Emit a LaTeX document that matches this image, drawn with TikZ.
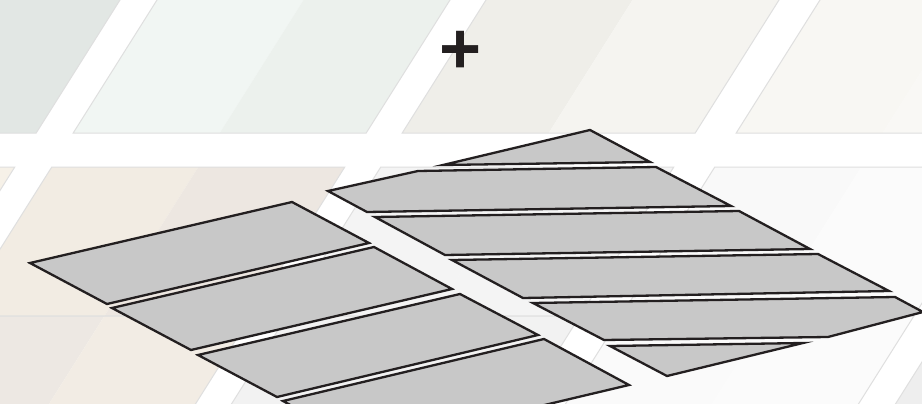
\documentclass[tikz,border=0pt]{standalone}
\usepackage{fontspec}
\newfontfamily\plusfont{Liberation Sans}
\definecolor{inkblack}{HTML}{231F20}
\definecolor{panelgray}{HTML}{C8C8C8}
\definecolor{tileline}{HTML}{DFDFDF}
\newcommand\bgtile[5]{%
  \fill[fill=#4] ({#1-0.63*(#2)},#2) -- ({#1+146.5-0.63*(#2)},#2) -- ({#1+146.5-0.63*(#3)},#3) -- ({#1-0.63*(#3)},#3) -- cycle;
  \fill[fill=#5] ({#1+146.5-0.63*(#2)},#2) -- ({#1+293-0.63*(#2)},#2) -- ({#1+293-0.63*(#3)},#3) -- ({#1+146.5-0.63*(#3)},#3) -- cycle;
  \draw[tileedge] ({#1-0.63*(#2)},#2) -- ({#1+293-0.63*(#2)},#2) -- ({#1+293-0.63*(#3)},#3) -- ({#1-0.63*(#3)},#3) -- cycle;
}
\begin{document}
\begin{tikzpicture}[x=1pt,y=-1pt,
  panel/.style={fill=panelgray, draw=inkblack, line width=2.3pt, line join=miter},
  tileedge/.style={draw=tileline, line width=1pt}]
\useasboundingbox (0,0) rectangle (922,404);
\fill[white] (0,0) rectangle (922,404);
\clip (0,0) rectangle (922,404);
% background tiles, row 1
\bgtile{-173}{-20}{133}{{rgb,255:red,228;green,233;blue,230}}{{rgb,255:red,226;green,231;blue,228}}
\bgtile{157}{-20}{133}{{rgb,255:red,241;green,246;blue,243}}{{rgb,255:red,236;green,241;blue,237}}
\bgtile{486}{-20}{133}{{rgb,255:red,239;green,238;blue,233}}{{rgb,255:red,245;green,244;blue,240}}
\bgtile{820}{-20}{133}{{rgb,255:red,248;green,247;blue,243}}{{rgb,255:red,249;green,248;blue,245}}
% row 2
\bgtile{-173}{167}{316}{{rgb,255:red,246;green,241;blue,232}}{{rgb,255:red,246;green,241;blue,232}}
\bgtile{157}{167}{316}{{rgb,255:red,242;green,236;blue,227}}{{rgb,255:red,237;green,231;blue,225}}
\bgtile{486}{167}{316}{{rgb,255:red,244;green,244;blue,244}}{{rgb,255:red,244;green,244;blue,244}}
\bgtile{820}{167}{316}{{rgb,255:red,249;green,249;blue,249}}{{rgb,255:red,251;green,251;blue,251}}
% row 3
\bgtile{-173}{316}{420}{{rgb,255:red,240;green,236;blue,230}}{{rgb,255:red,240;green,236;blue,230}}
\bgtile{157}{316}{420}{{rgb,255:red,237;green,232;blue,227}}{{rgb,255:red,242;green,236;blue,228}}
\bgtile{486}{316}{420}{{rgb,255:red,242;green,242;blue,242}}{{rgb,255:red,242;green,242;blue,242}}
\bgtile{820}{316}{420}{{rgb,255:red,250;green,250;blue,250}}{{rgb,255:red,251;green,251;blue,251}}
\bgtile{1150}{316}{420}{{rgb,255:red,238;green,238;blue,238}}{{rgb,255:red,238;green,238;blue,238}}
% left group of panels
\draw[panel] (30,263) -- (292,202) -- (369,243) -- (107,304) -- cycle;
\draw[panel] (112,308) -- (374,247) -- (452,289) -- (191,350) -- cycle;
\draw[panel] (198,355) -- (460,294) -- (538,335) -- (277,397) -- cycle;
\draw[panel] (283,401) -- (544,339) -- (629,385) -- (367,447) -- cycle;
% right group of panels
\draw[panel] (443,165) -- (590,130) -- (650,162) -- cycle;
\draw[panel] (328,191) -- (418,171) -- (656,167) -- (731,206) -- (367,212) -- cycle;
\draw[panel] (375,217) -- (739,211) -- (810,249) -- (445,255) -- cycle;
\draw[panel] (452,260) -- (818,254) -- (889,291) -- (523,298) -- cycle;
\draw[panel] (533,303) -- (895,297) -- (923,312) -- (828,337) -- (604,340) -- cycle;
\draw[panel] (610,346) -- (803,343) -- (667,376) -- cycle;
% plus sign
\node[font=\plusfont\bfseries\fontsize{72}{72}\selectfont, text=inkblack, inner sep=0pt] (plus) at (461,52) {+};
\end{tikzpicture}
\end{document}
